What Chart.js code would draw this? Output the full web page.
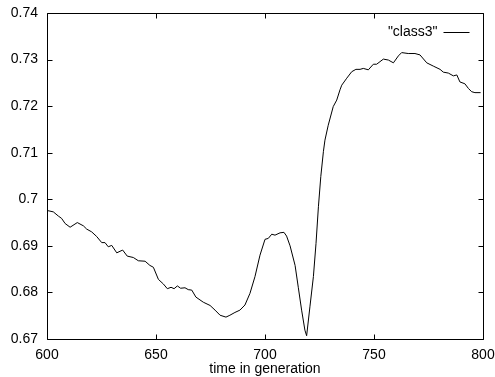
<!DOCTYPE html>
<html>
<head>
<meta charset="utf-8">
<script src="https://cdn.jsdelivr.net/npm/chart.js@4/dist/chart.umd.min.js"></script>
<style>
  html, body { margin: 0; padding: 0; background: #fff; }
  canvas { display: block; }
</style>
</head>
<body>
<canvas id="genChart" width="495" height="377"></canvas>
<script>
// generation (x) and class3 value (y)
const generations = [
  600.0, 602.9, 605.2, 606.7, 608.3, 610.6, 613.9, 616.7, 618.2, 620.5,
  622.8, 625.1, 626.6, 628.1, 629.7, 632.0, 634.7, 636.8, 639.6, 641.9,
  645.0, 647.2, 648.8, 651.1, 653.4, 655.2, 656.9, 658.3, 659.8, 661.3,
  663.3, 664.8, 666.4, 668.3, 671.7, 674.8, 677.1, 679.4, 682.1, 683.9,
  686.2, 688.5, 690.8, 693.1, 695.4, 697.7, 700.0, 701.5, 703.1, 704.6,
  706.9, 708.7, 709.9, 711.5, 713.8, 715.3, 716.8, 718.3, 719.1, 720.6,
  722.2, 723.4, 724.5, 725.6, 726.8, 727.5, 729.0, 731.3, 732.9, 734.4,
  735.2, 737.5, 739.8, 741.7, 743.6, 745.1, 747.4, 749.7, 751.2, 754.3,
  756.6, 758.9, 761.2, 762.7, 765.7, 768.8, 771.1, 774.2, 777.2, 780.3,
  781.8, 784.1, 786.4, 788.0, 789.4, 791.7, 793.3, 794.8, 796.3, 798.9
];
const class3 = [
  0.6976, 0.6973, 0.6964, 0.6959, 0.6948, 0.6940, 0.6950, 0.6943, 0.6936, 0.6930,
  0.6920, 0.6907, 0.6907, 0.6898, 0.6901, 0.6885, 0.6891, 0.6878, 0.6875, 0.6868,
  0.6867, 0.6858, 0.6854, 0.6828, 0.6818, 0.6808, 0.6811, 0.6808, 0.6814, 0.6809,
  0.6810, 0.6806, 0.6805, 0.6790, 0.6779, 0.6772, 0.6762, 0.6751, 0.6747, 0.6751,
  0.6757, 0.6762, 0.6773, 0.6798, 0.6834, 0.6880, 0.6914, 0.6916, 0.6925, 0.6923,
  0.6928, 0.6929, 0.6921, 0.6900, 0.6858, 0.6810, 0.6762, 0.6719, 0.6707, 0.6769,
  0.6834, 0.6905, 0.6984, 0.7049, 0.7103, 0.7127, 0.7159, 0.7199, 0.7213, 0.7235,
  0.7245, 0.7260, 0.7274, 0.7279, 0.7279, 0.7281, 0.7278, 0.7290, 0.7290, 0.7301,
  0.7299, 0.7293, 0.7308, 0.7315, 0.7313, 0.7313, 0.7310, 0.7293, 0.7286, 0.7279,
  0.7273, 0.7271, 0.7265, 0.7267, 0.7252, 0.7248, 0.7238, 0.7231, 0.7229, 0.7229
];
const seriesName = '"class3"';
const xLabel = 'time in generation';

const FONT = '"Liberation Sans", Arial, Helvetica, sans-serif';

// gnuplot style box with inward ticks on all four sides + key inside top right
const gnuplotFrame = {
  id: 'gnuplotFrame',
  afterDatasetsDraw(chart) {
    const { ctx, chartArea: a, scales } = chart;
    const L = Math.round(a.left) + 0.5, R = Math.round(a.right) + 0.5;
    const T = Math.round(a.top) + 0.5, B = Math.round(a.bottom) + 0.5;
    const tick = 5;
    ctx.save();
    ctx.strokeStyle = '#000';
    ctx.lineWidth = 1;
    ctx.beginPath();
    ctx.rect(L, T, R - L, B - T);
    scales.x.ticks.forEach(t => {
      const px = Math.round(scales.x.getPixelForValue(t.value)) + 0.5;
      ctx.moveTo(px, B); ctx.lineTo(px, B - tick);
      ctx.moveTo(px, T); ctx.lineTo(px, T + tick);
    });
    scales.y.ticks.forEach(t => {
      const py = Math.round(scales.y.getPixelForValue(t.value)) + 0.5;
      ctx.moveTo(L, py); ctx.lineTo(L + tick, py);
      ctx.moveTo(R, py); ctx.lineTo(R - tick, py);
    });
    ctx.stroke();

    // key
    const ky = Math.round(a.top) + 19.5;
    ctx.font = '14px ' + FONT;
    ctx.fillStyle = '#000';
    ctx.textAlign = 'right';
    ctx.textBaseline = 'middle';
    ctx.fillText(chart.data.datasets[0].label, R - 46, ky);
    ctx.beginPath();
    ctx.moveTo(R - 40, ky);
    ctx.lineTo(R - 14, ky);
    ctx.stroke();
    ctx.restore();
  }
};

new Chart(document.getElementById('genChart'), {
  type: 'line',
  data: {
    datasets: [{
      label: seriesName,
      data: generations.map((g, i) => ({ x: g, y: class3[i] })),
      borderColor: '#000',
      borderWidth: 1,
      pointRadius: 0,
      tension: 0,
      fill: false
    }]
  },
  options: {
    responsive: false,
    animation: false,
    devicePixelRatio: 1,
    layout: { padding: { top: 13, right: 12, left: 0, bottom: 0 } },
    plugins: {
      legend: { display: false },
      tooltip: { enabled: false }
    },
    scales: {
      x: {
        type: 'linear',
        min: 600,
        max: 800,
        grid: { display: false, drawTicks: false },
        border: { display: false },
        ticks: {
          stepSize: 50,
          color: '#000',
          padding: 8,
          maxRotation: 0,
          font: { family: FONT, size: 14 }
        },
        title: {
          display: true,
          text: xLabel,
          color: '#000',
          padding: { top: 0, bottom: -1 },
          font: { family: FONT, size: 14 }
        },
        afterFit(s) {
          s.height = 38;
          s.paddingLeft = 0;
          s.paddingRight = 0;
        }
      },
      y: {
        min: 0.67,
        max: 0.74,
        grid: { display: false, drawTicks: false },
        border: { display: false },
        ticks: {
          stepSize: 0.01,
          color: '#000',
          padding: 9,
          font: { family: FONT, size: 14 },
          callback: v => String(Number(v.toFixed(2)))
        },
        afterFit(s) {
          s.width = 47;
          s.paddingTop = 0;
          s.paddingBottom = 0;
        }
      }
    }
  },
  plugins: [gnuplotFrame]
});
</script>
</body>
</html>
